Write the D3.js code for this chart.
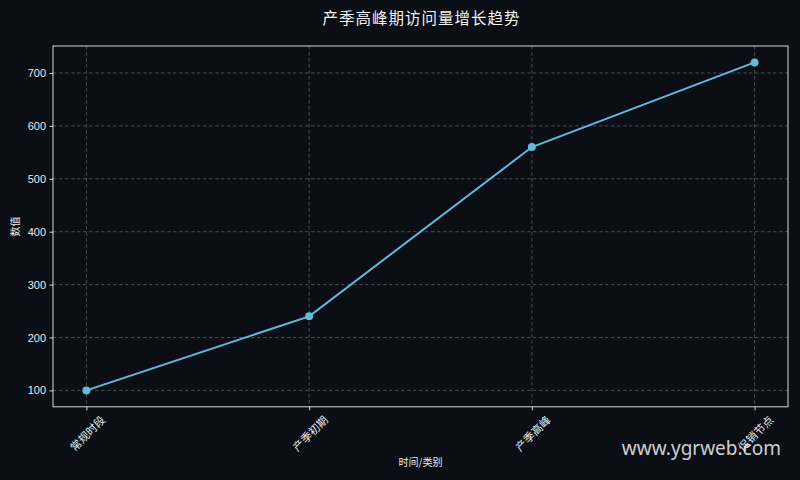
<!DOCTYPE html>
<html><head><meta charset="utf-8">
<script src="https://cdn.jsdelivr.net/npm/d3@7/dist/d3.min.js"></script>
<style>
html,body{margin:0;padding:0;background:#0b0e14;}
svg{display:block;}
</style></head>
<body>
<svg id="c" width="800" height="480"></svg>
<script>
const categories = ["常规时段","产季初期","产季高峰","促销节点"];
const values = [100,240,560,720];
const yTicks = [100,200,300,400,500,600,700];
const title = "产季高峰期访问量增长趋势";
const xLabel = "时间/类别";
const yLabel = "数值";
const watermark = "www.ygrweb.com";

const W=800,H=480, L=53, R=788, T=46, B=406.8;
const svg=d3.select("#c");
svg.append("rect").attr("width",W).attr("height",H).attr("fill","#0b0e14");
const font="'Liberation Sans','Noto Sans CJK SC',sans-serif";
const cjk="'Noto Sans CJK SC','Liberation Sans',sans-serif";

const n=categories.length;
const x=d3.scaleLinear().domain([-0.15,n-1+0.15]).range([L,R]);
const ymin=d3.min(values), ymax=d3.max(values), pad=(ymax-ymin)*0.05;
const y=d3.scaleLinear().domain([ymin-pad,ymax+pad]).range([B,T]);

const grid=svg.append("g");
grid.selectAll("line.h").data(yTicks).join("line")
 .attr("x1",L).attr("x2",R).attr("y1",d=>y(d)).attr("y2",d=>y(d))
 .attr("stroke","#5a5d63").attr("stroke-width",0.8).attr("stroke-dasharray","3.5,2.5");
grid.selectAll("line.v").data(d3.range(n)).join("line")
 .attr("y1",T).attr("y2",B).attr("x1",d=>x(d)).attr("x2",d=>x(d))
 .attr("stroke","#5a5d63").attr("stroke-width",0.8).attr("stroke-dasharray","3.5,2.5");

const yAxis=d3.axisLeft(y).tickValues(yTicks).tickSize(3.5).tickPadding(3.5);
const gy=svg.append("g").attr("transform",`translate(${L},0)`).call(yAxis);
gy.select(".domain").remove();
gy.selectAll(".tick line").attr("stroke","#d8d8d8");
gy.selectAll(".tick text").attr("fill","#ececec").attr("font-size",11).attr("font-family",font);

const xAxis=d3.axisBottom(x).tickValues(d3.range(n)).tickFormat(i=>categories[i]).tickSize(3.5).tickPadding(0);
const gx=svg.append("g").attr("transform",`translate(0,${B})`).call(xAxis);
gx.select(".domain").remove();
gx.selectAll(".tick line").attr("stroke","#d8d8d8");
gx.selectAll(".tick text").attr("fill","#ececec").attr("font-size",11).attr("font-family",cjk)
 .attr("text-anchor","middle").attr("dy",null).attr("y",0)
 .attr("transform","translate(0,26) rotate(-45)").attr("dominant-baseline","central");

svg.append("rect").attr("x",L).attr("y",T).attr("width",R-L).attr("height",B-T)
 .attr("fill","none").attr("stroke","#d8d8d8").attr("stroke-width",1);

const line=d3.line().x((d,i)=>x(i)).y(d=>y(d));
svg.append("path").datum(values).attr("d",line).attr("fill","none")
 .attr("stroke","#65b8da").attr("stroke-width",2);
svg.selectAll("circle.p").data(values).join("circle")
 .attr("cx",(d,i)=>x(i)).attr("cy",d=>y(d)).attr("r",4).attr("fill","#65b8da");

svg.append("text").attr("x",(L+R)/2+1).attr("y",24).attr("text-anchor","middle")
 .attr("fill","#f2f2f2").attr("font-size",15.5).attr("font-family",cjk).attr("letter-spacing",1).text(title);
svg.append("text").attr("x",(L+R)/2).attr("y",466).attr("text-anchor","middle")
 .attr("fill","#ececec").attr("font-size",10).attr("font-family",cjk).text(xLabel);
svg.append("text").attr("transform",`translate(19,${(T+B)/2}) rotate(-90)`).attr("text-anchor","middle")
 .attr("fill","#ececec").attr("font-size",10).attr("font-family",cjk).text(yLabel);

svg.append("text").attr("x",781).attr("y",455).attr("text-anchor","end")
 .attr("fill","#e8e8e8").attr("fill-opacity",0.9).attr("font-size",19).attr("font-family","'Noto Sans','Open Sans',sans-serif").text(watermark);
</script>
</body></html>
